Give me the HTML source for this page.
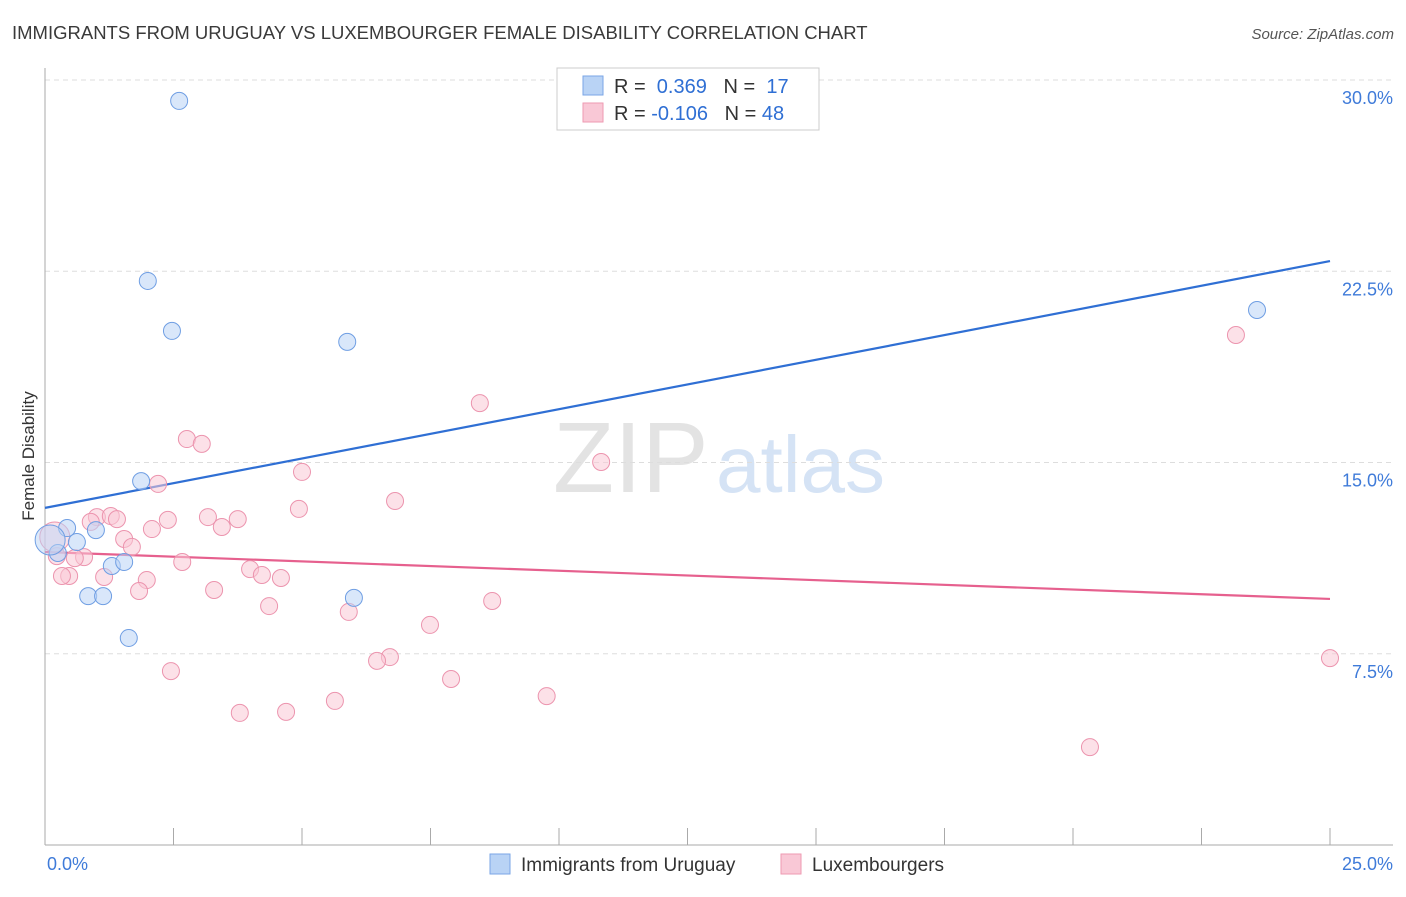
<!DOCTYPE html>
<html><head><meta charset="utf-8"><style>
body{margin:0;background:#fff;font-family:"Liberation Sans",sans-serif;}
svg text{font-family:"Liberation Sans",sans-serif;}
</style></head><body>
<svg id="chart" width="1406" height="892" xmlns="http://www.w3.org/2000/svg">
<text x="12" y="39" font-size="18.5" fill="#3a3a3a">IMMIGRANTS FROM URUGUAY VS LUXEMBOURGER FEMALE DISABILITY CORRELATION CHART</text>
<text x="1394" y="39" font-size="15" fill="#555" font-style="italic" text-anchor="end">Source: ZipAtlas.com</text>
<g>
<text x="553" y="492" font-size="100" fill="#e3e3e3" font-family="Liberation Serif,serif">ZIP</text>
<text x="716" y="492" font-size="80" fill="#d5e3f5">atlas</text>
</g>
<g id="grid"></g>
<g id="axes"></g>
<g id="lines"></g>
<g id="points"></g>
<text transform="translate(34,456) rotate(-90)" font-size="17" fill="#333" text-anchor="middle">Female Disability</text>
<g>
<rect x="557" y="68" width="262" height="62" fill="#fff" stroke="#ccc"/>
<rect x="583" y="76" width="20" height="19" fill="#b9d3f5" stroke="#7aa6e6"/>
<rect x="583" y="103" width="20" height="19" fill="#f9c8d6" stroke="#ee9ab2"/>
<text x="614" y="93" font-size="20" fill="#333">R = <tspan fill="#2f6fd4">&#160;0.369</tspan>&#160;&#160;&#160;N = <tspan fill="#2f6fd4">&#160;17</tspan></text>
<text x="614" y="120" font-size="20" fill="#333">R = <tspan fill="#2f6fd4">-0.106</tspan>&#160;&#160;&#160;N = <tspan fill="#2f6fd4">48</tspan></text>
</g>
<g>
<rect x="490" y="854" width="20" height="20" fill="#b9d3f5" stroke="#7aa6e6"/>
<text x="521" y="871" font-size="19" fill="#333">Immigrants from Uruguay</text>
<rect x="781" y="854" width="20" height="20" fill="#f9c8d6" stroke="#ee9ab2"/>
<text x="812" y="871" font-size="19" fill="#333">Luxembourgers</text>
</g>
</svg>
<script>
const yTicks=[7.5,15,22.5,30];
const yTickLabels=["7.5%","15.0%","22.5%","30.0%"];
const xTickCount=10;
const xLabels=["0.0%","25.0%"];
const blueX=[2.61,2.00,2.47,5.88,23.58,1.87,0.43,0.99,0.62,0.25,1.30,1.54,0.84,1.13,6.01,1.63,0.10];
const blueY=[29.18,22.12,20.16,19.73,20.98,14.27,12.43,12.35,11.88,11.45,10.94,11.10,9.76,9.76,9.69,8.12,11.96];
const pinkX=[23.17,8.46,2.76,3.05,10.82,5.00,2.20,6.81,4.94,1.01,1.28,1.40,3.17,3.75,2.39,0.89,2.08,3.44,1.54,1.69,0.76,0.58,0.23,2.67,3.99,4.22,4.59,1.15,0.47,1.98,0.33,1.83,3.29,4.36,8.70,5.91,7.49,6.71,6.46,2.45,7.90,9.76,5.64,3.79,4.69,20.33,25.0,0.19];
const pinkY=[20.00,17.33,15.92,15.73,15.02,14.63,14.16,13.49,13.18,12.86,12.90,12.78,12.86,12.78,12.75,12.67,12.39,12.47,12.00,11.69,11.29,11.25,11.33,11.10,10.82,10.59,10.47,10.51,10.55,10.39,10.55,9.96,10.00,9.37,9.57,9.14,8.63,7.37,7.22,6.82,6.51,5.84,5.65,5.18,5.22,3.84,7.33,12.08];
const blueTrend=[13.22,22.90];
const pinkTrend=[11.49,9.65];
const X0=45,X1=1330,Y0=845,YTOP=80;
const xs=v=>X0+(v/25)*(X1-X0);
const ys=v=>Y0-(v/30)*(Y0-YTOP);
const NS="http://www.w3.org/2000/svg";
function mk(tag,parent,attrs){const e=document.createElementNS(NS,tag);for(const k in attrs)e.setAttribute(k,attrs[k]);document.getElementById(parent).appendChild(e);return e;}
yTicks.forEach((t,i)=>{
 const l=mk('line','grid',{x1:X0,x2:1393,y1:ys(t),y2:ys(t),stroke:'#ddd','stroke-dasharray':'5,4'});
 
 
 const tx=mk('text','axes',{x:1393,y:ys(t)+24,'font-size':18,fill:'#3f7bd9','text-anchor':'end'});
 tx.textContent=yTickLabels[i];
 
 
});
const ax=mk('line','axes',{x1:X0,x2:X0,y1:68,y2:Y0,stroke:'#aaa'});


const bx=mk('line','axes',{x1:X0,x2:1393,y1:Y0,y2:Y0,stroke:'#aaa'});


for(let i=1;i<=xTickCount;i++){
 const t=mk('line','axes',{x1:xs(i*2.5),x2:xs(i*2.5),y1:828,y2:Y0,stroke:'#aaa'});
 
 
}
[[X0+2,'start',xLabels[0]],[1393,'end',xLabels[1]]].forEach(a=>{
 const t=mk('text','axes',{x:a[0],y:870,'font-size':18,fill:'#3f7bd9','text-anchor':a[1]});
 t.textContent=a[2];
 
 
});
function pts(X,Y,fill,stroke,name){
 X.forEach((x,i)=>{
  const big=(i===X.length-1);
  const c=mk('circle','points',{cx:xs(x),cy:ys(Y[i]),r:big?15:8.5,fill:fill,'fill-opacity':big?0.5:0.55,stroke:stroke,'stroke-width':1});
  
  
 });
}
pts(pinkX,pinkY,'#f9c8d6','#ec94ae','luxembourgers-point');
pts(blueX,blueY,'#b9d3f5','#6f9ee3','uruguay-point');
const lb=mk('line','lines',{x1:xs(0),x2:xs(25),y1:ys(blueTrend[0]),y2:ys(blueTrend[1]),stroke:'#2f6fd4','stroke-width':2.2});


const lp=mk('line','lines',{x1:xs(0),x2:xs(25),y1:ys(pinkTrend[0]),y2:ys(pinkTrend[1]),stroke:'#e6608e','stroke-width':2.2});


</script>
</body></html>
